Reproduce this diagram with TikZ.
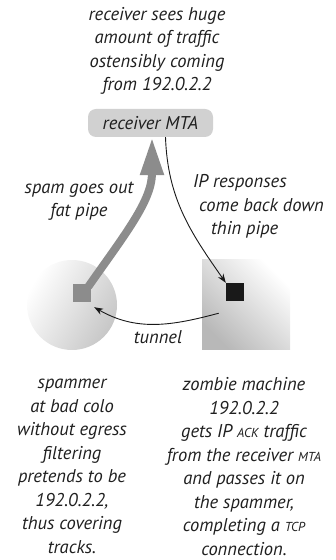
\documentclass[tikz,border=0pt]{standalone}
\usepackage{fontspec}
\setmainfont{PT Sans}
\usetikzlibrary{arrows.meta,positioning}
\newcommand{\smc}[1]{{\fontsize{13}{23.5}\selectfont #1}}

\begin{document}
\begin{tikzpicture}[x=1pt,y=1pt,
		txt/.style={font=\fontsize{18.5}{23.5}\selectfont\itshape, align=center, text=black!88, inner sep=0pt},
		mta/.style={txt, fill=black!18, rounded corners=8pt, minimum width=125pt, minimum height=28pt},
		sq/.style={minimum size=18pt, inner sep=0pt},
		fat/.style={draw=black!45, line width=8pt, -{Triangle[width=22pt,length=38pt]}},
		thinpipe/.style={draw=black!90, line width=0.9pt, -{Stealth[length=9pt,width=6.5pt]}}
		]%y upwards, 1pt per pixel
		\useasboundingbox (0,0) rectangle (335,560);
		\node[txt] (sees) at (157,509) {receiver sees huge\\amount of traffic\\ostensibly coming\\from 192.0.2.2};
		\node[mta] (mta) at (150.5,437) {receiver MTA};
		\shade[bottom color=white, top color=black!22, shading angle=-120] (72,255) circle (45pt);
		\shade[bottom color=white, top color=black!28, shading angle=135] (202,210) rectangle (290,300);
		\node[sq, fill=black!45] (spam) at (82,267) {};
		\node[sq, fill=black!90] (zombie) at (235,268) {};
		\draw[fat] ([xshift=-3pt,yshift=-3pt]spam.north east) to[out=55,in=-90] ([xshift=1.5pt]mta.south);
		\draw[thinpipe] ([xshift=15pt]mta.south) to[out=-88,in=125] (zombie.north west);
		\draw[thinpipe] ([xshift=-7pt,yshift=-12pt]zombie.south west) to[out=-165,in=-30] ([xshift=3pt,yshift=-5pt]spam.south east);
		\node[txt] (fatlbl) at (79,359) {spam goes out\\fat pipe};
		\node[txt, align=left, anchor=west] (thinlbl) at (193,353.5) {IP responses\\\hspace*{6pt}come back down\\\hspace*{18pt}thin pipe};
		\node[txt] (tunnel) at (158,223) {tunnel};
		\node[txt] (spammer) at (72,93.5) {spammer\\at bad colo\\without egress\\filtering\\pretends to be\\192.0.2.2,\\thus covering\\tracks.};
		\node[txt] (zombietxt) at (244,93.5) {zombie machine\\192.0.2.2\\gets IP \smc{ACK} traffic\\from the receiver \smc{MTA}\\and passes it on\\the spammer,\\completing a \smc{TCP}\\connection.};
\end{tikzpicture}
\end{document}
